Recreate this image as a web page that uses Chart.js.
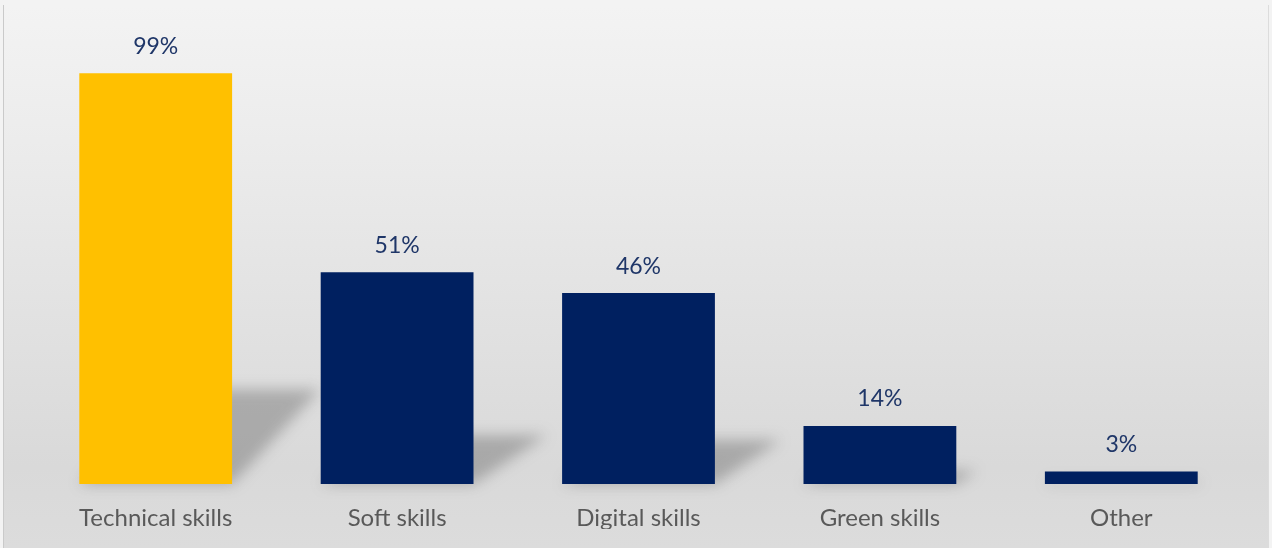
<!doctype html>
<html lang="en">

<head>
  <title>Skills</title>
  <meta charset="utf-8">
  <meta name="viewport" content="width=device-width, initial-scale=1">
  <style>
    body {
      margin: 0;
      background: #f3f3f3;
      font-family: Lato, "Liberation Sans", sans-serif;
    }

    .marco {
      position: relative;
      width: 1272px;
      height: 548px;
      overflow: hidden;
    }

    .fondo {
      position: absolute;
      left: 3px;
      top: 5px;
      right: 3px;
      bottom: 0;
      border-left: 1px solid #cacaca;
      border-right: 1px solid #dcdcdc;
      background: linear-gradient(to bottom, #f3f3f3 0%, #ececec 25%, #e1e1e1 60%, #d9d9d9 85%, #dcdcdc 100%);
    }

    .lienzo {
      position: absolute;
      left: 0;
      top: 0;
      width: 1272px;
      height: 548px;
    }
  </style>
</head>

<body>

  <div class="marco">
    <div class="fondo"></div>
    <div class="lienzo">
      <canvas id="migrafico"></canvas>
    </div>
  </div>

  <script src="https://cdn.jsdelivr.net/npm/chart.js"></script>

  <script>
    // Datos del gráfico
    const categorias = ['Technical skills', 'Soft skills', 'Digital skills', 'Green skills', 'Other'];
    const valores = [99, 51, 46, 14, 3];
    const colores = ['#ffc000', '#002060', '#002060', '#002060', '#002060'];

    const fuente = 'Lato, "Liberation Sans", sans-serif';

    // Sombra en perspectiva detrás de cada barra
    const sombraBarras = {
      id: 'sombraBarras',
      beforeDatasetsDraw(chart) {
        const ctx = chart.ctx;
        const barras = chart.getDatasetMeta(0).data;
        ctx.save();
        ctx.filter = 'blur(7px)';
        barras.forEach(bar => {
          const alto = bar.base - bar.y;
          const dy = alto * 0.23;
          const dx = Math.min(dy * 1.5, 88);
          const izq = bar.x - bar.width / 2;
          const der = bar.x + bar.width / 2;
          ctx.fillStyle = 'rgba(90, 90, 90, 0.38)';
          ctx.beginPath();
          ctx.moveTo(izq, bar.base);
          ctx.lineTo(der, bar.base);
          ctx.lineTo(der + dx, bar.base - dy);
          ctx.lineTo(izq + dx, bar.base - dy);
          ctx.closePath();
          ctx.fill();
        });
        ctx.restore();
      }
    };

    // Porcentaje encima de cada barra
    const etiquetasValor = {
      id: 'etiquetasValor',
      afterDatasetsDraw(chart) {
        const ctx = chart.ctx;
        const barras = chart.getDatasetMeta(0).data;
        ctx.save();
        ctx.font = '23px ' + fuente;
        ctx.fillStyle = '#1f3668';
        ctx.textAlign = 'center';
        ctx.textBaseline = 'middle';
        barras.forEach((bar, i) => {
          ctx.fillText(valores[i] + '%', bar.x, bar.y - 27);
        });
        ctx.restore();
      }
    };

    const lienzo = document.getElementById('migrafico');

    new Chart(lienzo, {
      type: 'bar',
      data: {
        labels: categorias,
        datasets: [{
          data: valores,
          backgroundColor: colores,
          borderWidth: 0,
          categoryPercentage: 1,
          barPercentage: 0.633
        }]
      },
      options: {
        responsive: true,
        maintainAspectRatio: false,
        animation: false,
        layout: {
          padding: { left: 35, right: 30, top: 69, bottom: 19 }
        },
        plugins: {
          legend: { display: false },
          tooltip: { enabled: false }
        },
        scales: {
          y: {
            display: false,
            min: 0,
            max: 100
          },
          x: {
            grid: { display: false, drawTicks: false },
            border: { display: false },
            afterFit(scale) {
              scale.height = 45;
            },
            ticks: {
              color: '#595959',
              padding: 20,
              font: { family: fuente, size: 24 }
            }
          }
        }
      },
      plugins: [sombraBarras, etiquetasValor]
    });
  </script>
</body>

</html>
